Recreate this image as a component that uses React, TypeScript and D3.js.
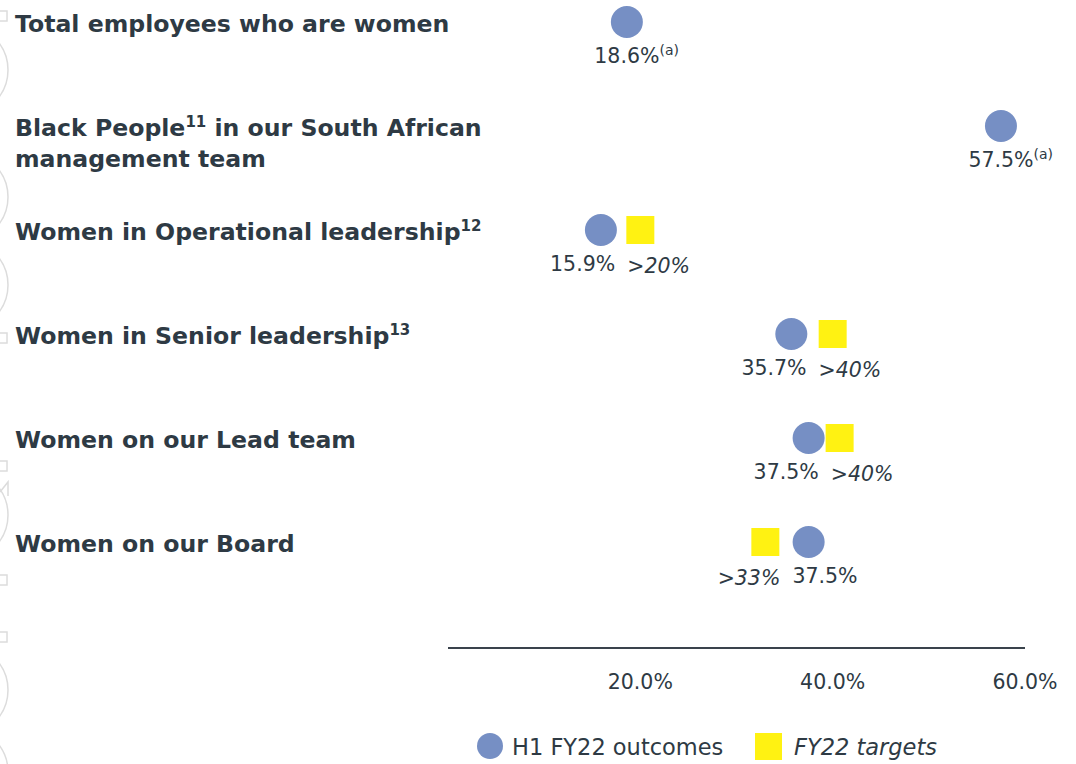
import React from "react";
import * as d3 from "d3";

// ---------- data ----------
const categories = [
  "Total employees who are women",
  "Black People in our South African management team",
  "Women in Operational leadership",
  "Women in Senior leadership",
  "Women on our Lead team",
  "Women on our Board",
];

type Part = { t: string; sup?: boolean };
const labelLines: Part[][][] = [
  [[{ t: "Total employees who are women" }]],
  [
    [{ t: "Black People" }, { t: "11", sup: true }, { t: " in our South African" }],
    [{ t: "management team" }],
  ],
  [[{ t: "Women in Operational leadership" }, { t: "12", sup: true }]],
  [[{ t: "Women in Senior leadership" }, { t: "13", sup: true }]],
  [[{ t: "Women on our Lead team" }]],
  [[{ t: "Women on our Board" }]],
];

const outcomes = [18.6, 57.5, 15.9, 35.7, 37.5, 37.5];
const outcomeNotes = ["(a)", "(a)", "", "", "", ""];
const targets: (number | null)[] = [null, null, 20, 40, 40, 33];
const tickValues = [20, 40, 60];
const legendLabels = ["H1 FY22 outcomes", "FY22 targets"];

// ---------- style ----------
const W = 1076;
const H = 764;
const TEXT = "#2e3a44";
const BLUE = "#768fc4";
const YELLOW = "#fff212";
const DECO = "#dcdcdc";
const FONT = "'DejaVu Sans', sans-serif";
const VAL_SIZE = 20.5;
const R = 16;
const SQ = 28;

const measureCanvas = typeof document !== "undefined" ? document.createElement("canvas") : null;
function textWidth(s: string, font: string) {
  const ctx = measureCanvas ? measureCanvas.getContext("2d") : null;
  if (!ctx) return s.length * 12;
  ctx.font = font;
  return ctx.measureText(s).width;
}

export default function App() {
  const x = d3.scaleLinear().domain([0, 60]).range([448, 1025]);
  const y = d3.scalePoint<string>().domain(categories).range([22, 542]);

  const rows = categories.map((c, i) => {
    const cy = y(c) as number;
    const cx = x(outcomes[i]);
    const t = targets[i];
    let tx: number | null = null;
    if (t != null) {
      tx = x(t);
      const minD = R + SQ / 2 + 1;
      if (Math.abs(tx - cx) < minD) tx = cx + (tx >= cx ? minD : -minD);
    }
    const oText = `${outcomes[i].toFixed(1)}%`;
    const tText = t != null ? `>${t}%` : "";
    const oW = textWidth(oText, `${VAL_SIZE}px DejaVu Sans`);
    const tW = t != null ? textWidth(tText, `italic ${VAL_SIZE}px DejaVu Sans`) : 0;
    let oC = cx;
    let tC = tx ?? 0;
    if (tx != null) {
      const gap = 12;
      const leftIsO = cx <= tx;
      const lC = leftIsO ? oC : tC, lW = leftIsO ? oW : tW;
      const rC = leftIsO ? tC : oC, rW = leftIsO ? tW : oW;
      const overlap = lC + lW / 2 + gap - (rC - rW / 2);
      if (overlap > 0) {
        const nl = lC - overlap / 2;
        const nr = rC + overlap / 2;
        if (leftIsO) { oC = nl; tC = nr; } else { tC = nl; oC = nr; }
      }
    }
    return { c, i, cy, cx, tx, oText, tText, oW, oC, tC };
  });

  const decoSquares = [16, 338, 466, 580, 637];
  const decoArcs = [70, 197, 285, 515, 690, 772];

  return (
    <svg
      width={W}
      height={H}
      viewBox={`0 0 ${W} ${H}`}
      style={{ position: "absolute", left: 0, top: 0, background: "#fff" }}
      fontFamily={FONT}
    >
      {/* faint decorations at the left edge */}
      <g fill="none" stroke={DECO} strokeWidth={1.5}>
        {decoSquares.map((sy, k) => (
          <rect key={"s" + k} x={-2} y={sy - 5} width={9} height={10} />
        ))}
        {decoArcs.map((ay, k) => (
          <circle key={"a" + k} cx={-37} cy={ay} r={45} />
        ))}
        <path d="M0,492 L8,482 L8,496" />
      </g>

      {/* category labels */}
      {rows.map((r) => (
        <text key={"l" + r.i} x={15} fill={TEXT} fontWeight="bold" fontSize={23.6}>
          {labelLines[r.i].map((line, li) => (
            <tspan key={li} x={15} y={r.cy + 10 + li * 31}>
              {line.map((p, pi) =>
                p.sup ? (
                  <tspan key={pi} fontSize={15} dy={-9}>{p.t}</tspan>
                ) : (
                  <tspan key={pi} dy={pi > 0 && line[pi - 1].sup ? 9 : 0}>{p.t}</tspan>
                )
              )}
            </tspan>
          ))}
        </text>
      ))}

      {/* target squares */}
      {rows.map((r) =>
        r.tx != null ? (
          <rect key={"t" + r.i} x={r.tx - SQ / 2} y={r.cy - SQ / 2} width={SQ} height={SQ} fill={YELLOW} />
        ) : null
      )}

      {/* outcome circles */}
      {rows.map((r) => (
        <circle key={"o" + r.i} cx={r.cx} cy={r.cy} r={R} fill={BLUE} />
      ))}

      {/* value labels */}
      {rows.map((r) => (
        <g key={"v" + r.i} fill={TEXT} fontSize={VAL_SIZE}>
          <text x={r.oC} y={r.cy + 41} textAnchor="middle">{r.oText}</text>
          {outcomeNotes[r.i] ? (
            <text x={r.oC + r.oW / 2} y={r.cy + 33} fontSize={14}>{outcomeNotes[r.i]}</text>
          ) : null}
          {r.tx != null ? (
            <text x={r.tC} y={r.cy + 43} textAnchor="middle" fontStyle="italic">{r.tText}</text>
          ) : null}
        </g>
      ))}

      {/* x axis */}
      <line x1={x(0)} x2={x(60)} y1={648} y2={648} stroke="#3a434c" strokeWidth={2} />
      {tickValues.map((t) => (
        <text key={"x" + t} x={x(t)} y={689} textAnchor="middle" fontSize={VAL_SIZE} fill={TEXT}>
          {`${t.toFixed(1)}%`}
        </text>
      ))}

      {/* legend */}
      <circle cx={490} cy={746} r={13} fill={BLUE} />
      <text x={512} y={755} fontSize={22.5} fill={TEXT}>{legendLabels[0]}</text>
      <rect x={755} y={733} width={27} height={27} fill={YELLOW} />
      <text x={794} y={755} fontSize={22.5} fill={TEXT} fontStyle="italic">{legendLabels[1]}</text>
    </svg>
  );
}
